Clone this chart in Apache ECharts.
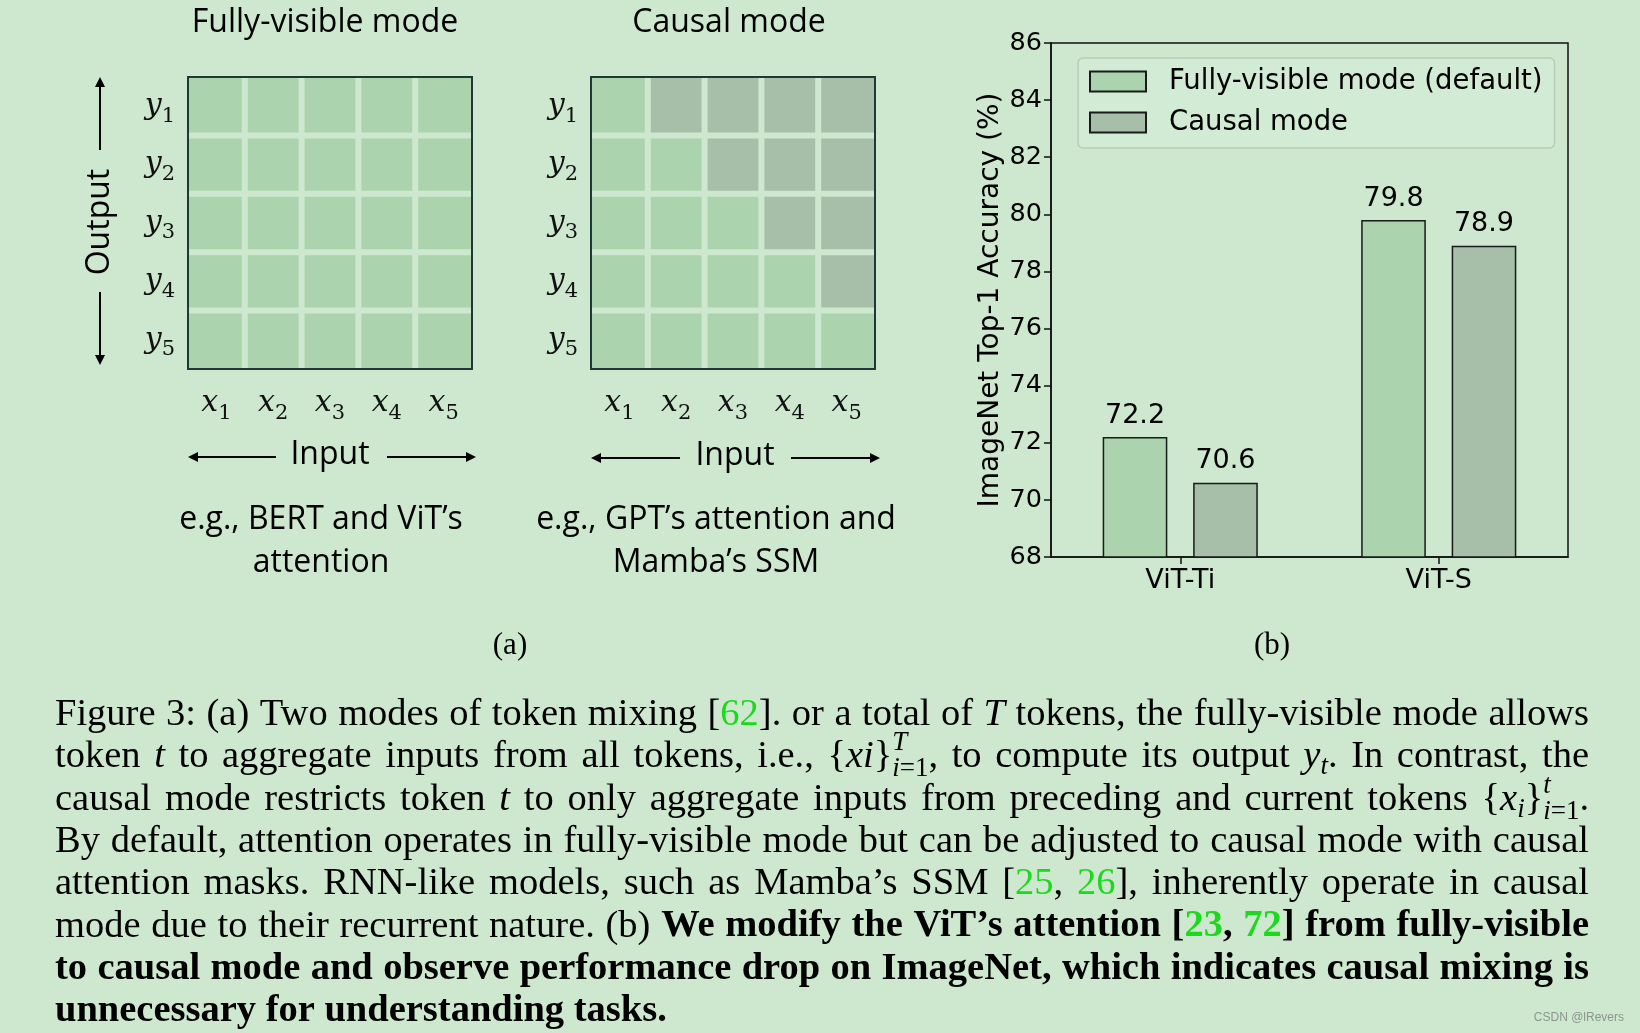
<!DOCTYPE html>
<html>
<head>
<meta charset="utf-8">
<script src="https://cdn.jsdelivr.net/npm/echarts@6/dist/echarts.min.js"></script>
<style>
html, body { margin: 0; padding: 0; background: #cde8cf; }
#chart { width: 1640px; height: 1033px; }
</style>
</head>
<body>
<div id="chart"></div>
<script>
// ---- data ----
const inputTokens = ['x1', 'x2', 'x3', 'x4', 'x5']
const outputTokens = ['y1', 'y2', 'y3', 'y4', 'y5']
// 1 = token can see the input, 0 = masked
const fullyVisibleMask = [
    [1, 1, 1, 1, 1],
    [1, 1, 1, 1, 1],
    [1, 1, 1, 1, 1],
    [1, 1, 1, 1, 1],
    [1, 1, 1, 1, 1]
]
const causalMask = [
    [1, 0, 0, 0, 0],
    [1, 1, 0, 0, 0],
    [1, 1, 1, 0, 0],
    [1, 1, 1, 1, 0],
    [1, 1, 1, 1, 1]
]
const models = ['ViT-Ti', 'ViT-S']
const seriesName1 = 'Fully-visible mode (default)'
const seriesName2 = 'Causal mode'
const fullyVisibleAcc = [72.2, 79.8]
const causalAcc = [70.6, 78.9]
const accMin = 68
const accMax = 86
const accStep = 2

const bg = '#cde8cf'
const cellOn = '#abd3ae'
const cellOff = '#a7bea9'
const refGreen = '#1ed81e'

function maskCells(mask) {
    const out = []
    mask.forEach((row, yi) => row.forEach((v, xi) => out.push([xi, yi, v])))
    return out
}

function tokenLabel(v) {
    return '{m|' + v[0] + '}{s|' + v.slice(1) + '}'
}
const tokenRich = {
    m: { fontFamily: 'DejaVu Serif', fontStyle: 'italic', fontSize: 30, color: '#111' },
    s: { fontFamily: 'DejaVu Serif', fontSize: 21, color: '#111', padding: [20, 0, 0, 0] }
}

// 单元格: 内部留 6px 缝, 外边贴边框
function renderCell(params, api) {
    const xi = api.value(0)
    const yi = api.value(1)
    const on = api.value(2)
    const c = api.coord([xi, yi])
    const s = api.size([1, 1])
    const last = inputTokens.length - 1
    const x0 = c[0] - s[0] / 2 + (xi === 0 ? 1 : 3)
    const x1 = c[0] + s[0] / 2 - (xi === last ? 1 : 3)
    const y0 = c[1] - s[1] / 2 + (yi === 0 ? 1 : 3)
    const y1 = c[1] + s[1] / 2 - (yi === last ? 1 : 3)
    return {
        type: 'rect',
        shape: { x: x0, y: y0, width: x1 - x0, height: y1 - y0 },
        style: { fill: on ? cellOn : cellOff }
    }
}

function heatAxes(gi) {
    return {
        x: {
            type: 'category',
            gridIndex: gi,
            data: inputTokens,
            axisLine: { show: false },
            axisTick: { show: false },
            splitLine: { show: false },
            axisLabel: { interval: 0, margin: 14, formatter: tokenLabel, rich: tokenRich }
        },
        y: {
            type: 'category',
            gridIndex: gi,
            inverse: true,
            data: outputTokens,
            axisLine: { show: false },
            axisTick: { show: false },
            splitLine: { show: false },
            axisLabel: { interval: 0, margin: 13, formatter: tokenLabel, rich: tokenRich }
        }
    }
}
const h0 = heatAxes(0)
const h1 = heatAxes(1)

// ---- caption (justified by hand) ----
const capLeft = 55
const capRight = 1589
const capTop = 715
const capLead = 42.3
const capFonts = {
    n: '38.5px "Liberation Serif"',
    i: 'italic 38.5px "Liberation Serif"',
    b: 'bold 38.5px "Liberation Serif"',
    g: '38.5px "Liberation Serif"',
    gb: 'bold 38.5px "Liberation Serif"',
    si: 'italic 27px "Liberation Serif"',
    ss: '27px "Liberation Serif"'
}
const capColors = { n: '#000', i: '#000', b: '#000', g: refGreen, gb: refGreen, si: '#000', ss: '#000' }
const captionLines = [
    [['n', 'Figure 3: (a) Two modes of token mixing [62]. or a total of T tokens, the fully-visible mode allows']],
    [['n', 'token t to aggregate inputs from all tokens, i.e., {xi}T, to compute its output yt. In contrast, the']],
    [['n', 'causal mode restricts token t to only aggregate inputs from preceding and current tokens {xi}t.']],
    [['n', 'By default, attention operates in fully-visible mode but can be adjusted to causal mode with causal']],
    [['n', 'attention masks. RNN-like models, such as Mamba’s SSM [25, 26], inherently operate in causal']],
    [['n', 'mode due to their recurrent nature. (b)'], ['b', 'We modify the ViT’s attention [23, 72] from fully-visible']],
    [['b', 'to causal mode and observe performance drop on ImageNet, which indicates causal mixing is']],
    [['b', 'unnecessary for understanding tasks.']]
]
const specialWords = {
    '[62].': [['n', '['], ['g', '62'], ['n', '].']],
    'T': [['i', 'T']],
    't': [['i', 't']],
    '{xi}T,': [['n', '{'], ['i', 'xi'], ['n', '}'], { sup: [['si', 'T']], sub: [['si', 'i'], ['ss', '=1']] }, ['n', ',']],
    'yt.': [['i', 'y'], ['si', 't', 10], ['n', '.']],
    '{xi}t.': [['n', '{'], ['i', 'x'], ['si', 'i', 10], ['n', '}'], { sup: [['si', 't']], sub: [['si', 'i'], ['ss', '=1']] }, ['n', '.']],
    '[25,': [['n', '['], ['g', '25'], ['n', ',']],
    '26],': [['g', '26'], ['n', '],']],
    '[23,': [['b', '['], ['gb', '23'], ['b', ',']],
    '72]': [['gb', '72'], ['b', ']']]
}

const ctx = document.createElement('canvas').getContext('2d')
function textW(style, text) {
    ctx.font = capFonts[style]
    return ctx.measureText(text).width
}
function seqW(list) {
    return list.reduce((a, p) => a + textW(p[0], p[1]), 0)
}
function pieceW(p) {
    return Array.isArray(p) ? textW(p[0], p[1]) : Math.max(seqW(p.sup), seqW(p.sub))
}
function textEl(p, x, y) {
    return {
        type: 'text',
        x: x,
        y: y + (p[2] || 0),
        silent: true,
        style: {
            text: p[1],
            font: capFonts[p[0]],
            fill: capColors[p[0]],
            textAlign: 'left',
            textVerticalAlign: 'middle'
        }
    }
}

function buildCaption() {
    const els = []
    captionLines.forEach((segs, li) => {
        const words = []
        segs.forEach(seg => {
            seg[1].split(' ').forEach(wd => {
                words.push(specialWords[wd] || [[seg[0], wd]])
            })
        })
        const widths = words.map(wd => wd.reduce((a, p) => a + pieceW(p), 0))
        const total = widths.reduce((a, b) => a + b, 0)
        const isLast = li === captionLines.length - 1
        const gap = isLast ? textW('b', ' ') : (capRight - capLeft - total) / (words.length - 1)
        const y = capTop + li * capLead
        let x = capLeft
        words.forEach((wd, wi) => {
            let cx = x
            wd.forEach(p => {
                if (Array.isArray(p)) {
                    els.push(textEl(p, cx, y))
                } else {
                    let sx = cx
                    p.sup.forEach(q => { els.push(textEl(q, sx, y - 14)); sx += textW(q[0], q[1]) })
                    sx = cx
                    p.sub.forEach(q => { els.push(textEl(q, sx, y + 12)); sx += textW(q[0], q[1]) })
                }
                cx += pieceW(p)
            })
            x += widths[wi] + gap
        })
    })
    return els
}

function arrowHead(tipX, tipY, dir) {
    // dir: 'up' | 'down' | 'left' | 'right'
    const L = 10, W = 5
    let pts
    if (dir === 'up') pts = [[tipX, tipY], [tipX - W, tipY + L], [tipX + W, tipY + L]]
    if (dir === 'down') pts = [[tipX, tipY], [tipX - W, tipY - L], [tipX + W, tipY - L]]
    if (dir === 'left') pts = [[tipX, tipY], [tipX + L, tipY - W], [tipX + L, tipY + W]]
    if (dir === 'right') pts = [[tipX, tipY], [tipX - L, tipY - W], [tipX - L, tipY + W]]
    return { type: 'polygon', silent: true, shape: { points: pts }, style: { fill: '#000' } }
}
function line(x1, y1, x2, y2) {
    return { type: 'line', silent: true, shape: { x1, y1, x2, y2 }, style: { stroke: '#000', lineWidth: 2 } }
}
function label(text, x, y, font, extra) {
    return Object.assign({
        type: 'text', x, y, silent: true,
        style: { text, font, fill: '#000', textAlign: 'center', textVerticalAlign: 'middle', lineHeight: 43 }
    }, extra || {})
}

const sansA = '32px "Open Sans"'
const graphic = [
    label('Fully-visible mode', 325, 23, sansA),
    label('Causal mode', 729, 23, sansA),
    label('Output', 100, 222, sansA, { rotation: Math.PI / 2 }),
    line(100, 150, 100, 84), arrowHead(100, 77, 'up'),
    line(100, 292, 100, 358), arrowHead(100, 365, 'down'),
    label('Input', 330, 455, sansA),
    line(276, 457, 195, 457), arrowHead(188, 457, 'left'),
    line(387, 457, 469, 457), arrowHead(476, 457, 'right'),
    label('Input', 735, 456, sansA),
    line(680, 458, 598, 458), arrowHead(591, 458, 'left'),
    line(791, 458, 873, 458), arrowHead(880, 458, 'right'),
    label('e.g., BERT and ViT’s\nattention', 321, 541, sansA),
    label('e.g., GPT’s attention and\nMamba’s SSM', 716, 541, sansA),
    label('(a)', 510, 646, '31px "Liberation Serif"'),
    label('(b)', 1272, 646, '31px "Liberation Serif"'),
    {
        type: 'text', x: 1624, y: 1018, silent: true,
        style: { text: 'CSDN @lRevers', font: '12px "Liberation Sans"', fill: '#8c968e', textAlign: 'right', textVerticalAlign: 'middle' }
    }
].concat(buildCaption())

const barText = { fontFamily: 'DejaVu Sans', color: '#000' }

const option = {
    animation: false,
    backgroundColor: bg,
    grid: [
        { left: 188, top: 77, width: 284, height: 292, show: true, borderColor: '#1d3836', borderWidth: 2 },
        { left: 591, top: 77, width: 284, height: 292, show: true, borderColor: '#1d3836', borderWidth: 2 },
        { left: 1051, top: 43, width: 517, height: 514, show: true, borderColor: '#111', borderWidth: 1.5 }
    ],
    legend: {
        data: [seriesName1, seriesName2],
        orient: 'vertical',
        left: 1078,
        top: 58,
        icon: 'rect',
        itemWidth: 56,
        itemHeight: 20,
        itemGap: 10,
        padding: [8, 12, 10, 11],
        selectedMode: false,
        backgroundColor: '#d2ebd4',
        borderColor: '#b7ccb8',
        borderWidth: 1.5,
        borderRadius: 5,
        textStyle: Object.assign({ fontSize: 27.5, lineHeight: 31, padding: [0, 0, 0, 18] }, barText)
    },
    xAxis: [
        h0.x,
        h1.x,
        {
            type: 'category',
            gridIndex: 2,
            data: models,
            axisLine: { lineStyle: { color: '#111', width: 1.5 } },
            axisTick: { show: true, alignWithLabel: true, length: 7, lineStyle: { color: '#111', width: 1.5 } },
            axisLabel: Object.assign({ fontSize: 27, margin: 10, interval: 0 }, barText),
            splitLine: { show: false }
        }
    ],
    yAxis: [
        h0.y,
        h1.y,
        {
            type: 'value',
            gridIndex: 2,
            min: accMin,
            max: accMax,
            interval: accStep,
            name: 'ImageNet Top-1 Accuracy (%)',
            nameLocation: 'middle',
            nameGap: 46,
            nameTextStyle: Object.assign({ fontSize: 28 }, barText),
            axisLine: { show: true, lineStyle: { color: '#111', width: 1.5 } },
            axisTick: { show: true, length: 7, lineStyle: { color: '#111', width: 1.5 } },
            axisLabel: Object.assign({ fontSize: 25.5, margin: 9, padding: [4, 0, 0, 0] }, barText),
            splitLine: { show: false }
        }
    ],
    series: [
        {
            type: 'custom',
            xAxisIndex: 0,
            yAxisIndex: 0,
            renderItem: renderCell,
            encode: { x: 0, y: 1 },
            data: maskCells(fullyVisibleMask),
            silent: true
        },
        {
            type: 'custom',
            xAxisIndex: 1,
            yAxisIndex: 1,
            renderItem: renderCell,
            encode: { x: 0, y: 1 },
            data: maskCells(causalMask),
            silent: true
        },
        {
            name: seriesName1,
            type: 'bar',
            xAxisIndex: 2,
            yAxisIndex: 2,
            data: fullyVisibleAcc,
            barWidth: '25%',
            barGap: '40%',
            itemStyle: { color: cellOn, borderColor: '#1a1a1a', borderWidth: 1.5 },
            label: Object.assign({ show: true, position: 'top', distance: 8, fontSize: 27 }, barText)
        },
        {
            name: seriesName2,
            type: 'bar',
            xAxisIndex: 2,
            yAxisIndex: 2,
            data: causalAcc,
            barWidth: '25%',
            barGap: '40%',
            itemStyle: { color: cellOff, borderColor: '#1a1a1a', borderWidth: 1.5 },
            label: Object.assign({ show: true, position: 'top', distance: 8, fontSize: 27 }, barText)
        }
    ],
    graphic: graphic
}

const chart = echarts.init(document.getElementById('chart'))
chart.setOption(option)
window.addEventListener('resize', () => chart.resize())
</script>
</body>
</html>
